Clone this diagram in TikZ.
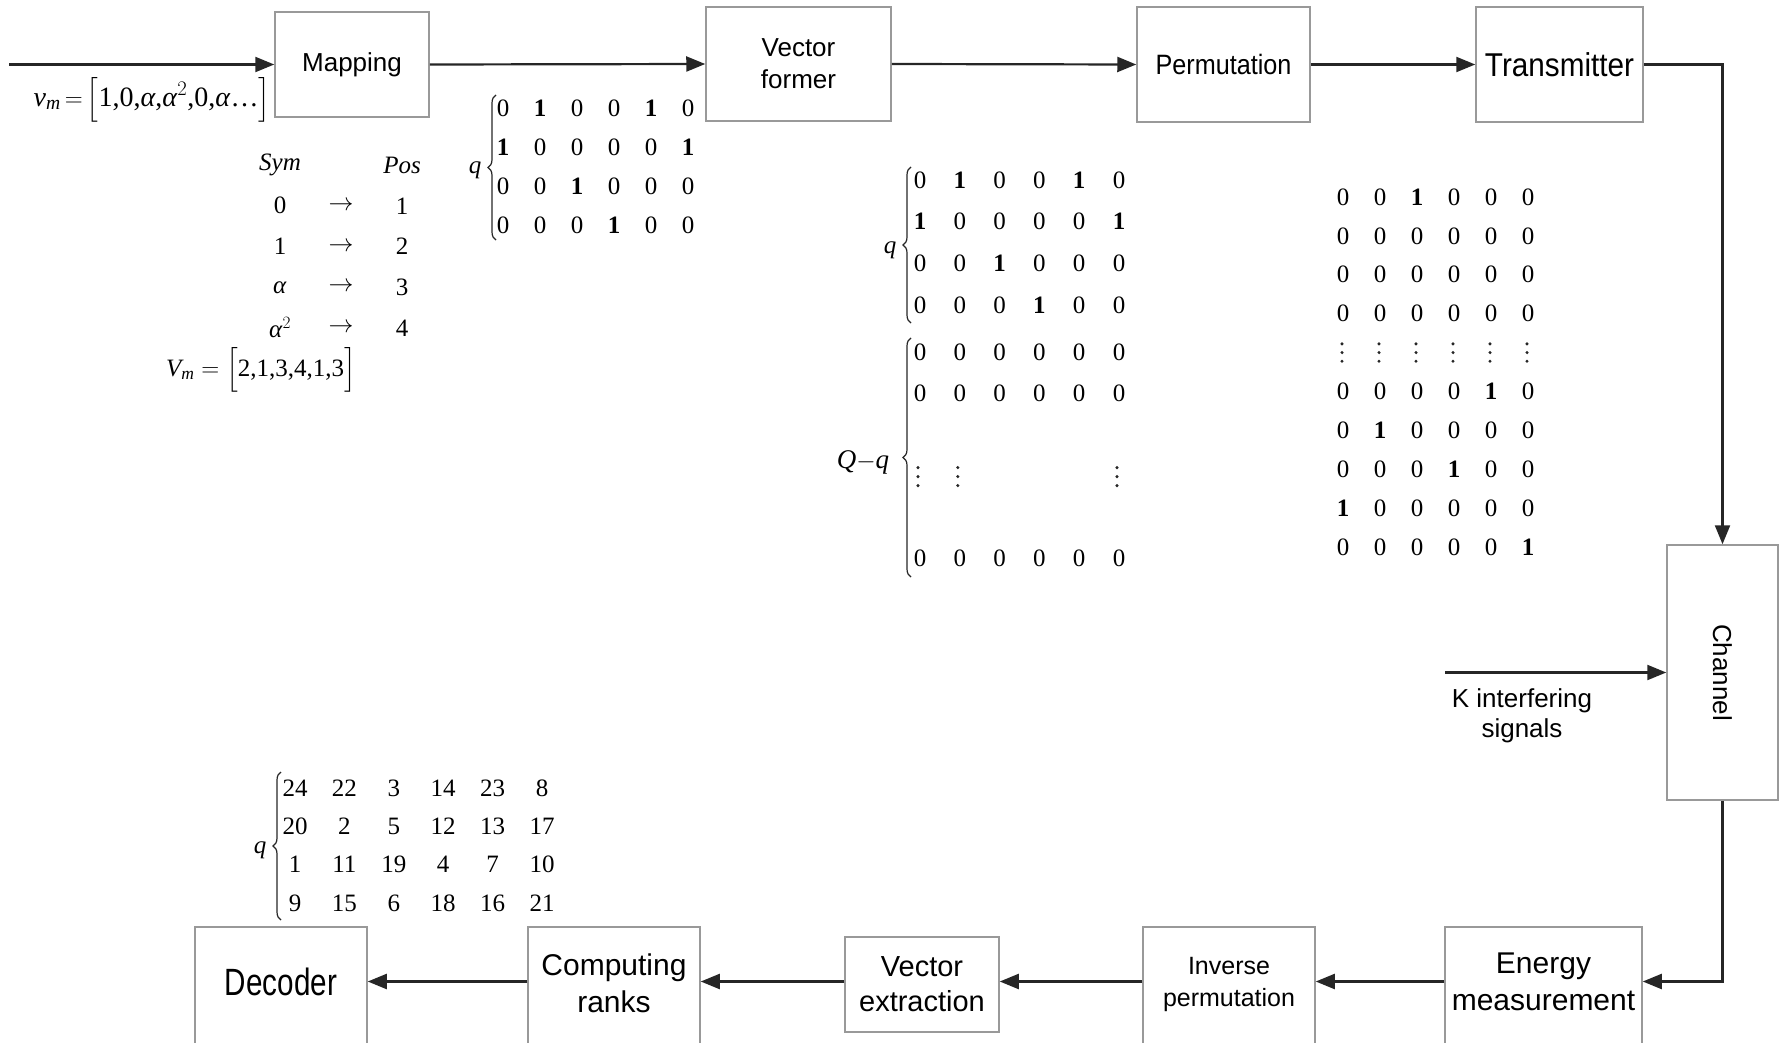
\documentclass[tikz,border=0pt]{standalone}
\usepackage{amsmath}
\usepackage{fontspec}
\setmainfont{Liberation Serif}
\newfontfamily\arial{Liberation Sans}
\newfontfamily\arialm[FakeStretch=0.9]{Liberation Sans}
\newfontfamily\arialn[FakeStretch=0.78]{Liberation Sans}
\usetikzlibrary{arrows.meta,matrix,decorations.pathreplacing}
\newcommand\fsz[2]{\fontsize{#1pt}{#2pt}\selectfont}
\newcommand\bo{\textbf{1}}
\newcommand\al{\textit{α}}
\begin{document}
\begin{tikzpicture}[x=1pt, y=-1pt,
  box/.style={draw=black!40, line width=1.5pt, inner sep=0pt},
  lbl/.style={align=center, inner sep=0pt},
  conn/.style={draw=black!85, line width=2.2pt, -{Triangle[length=19pt,width=15pt]}},
  mat/.style={matrix of nodes, nodes in empty cells, column sep=0pt, row sep=0pt, inner sep=0pt,
    nodes={inner sep=0pt, anchor=center, font=\fsz{25}{30}}},
  brc/.style={decorate, decoration={brace, amplitude=8pt}, line width=1.2pt, draw=black!85},
  vdot/.style={fill=black!85}]
\useasboundingbox (0,0) rectangle (1781,1043);
\clip (0,0) rectangle (1781,1043);

% ---- top row boxes
\node[box, minimum width=154pt, minimum height=105pt, font=\arial\fsz{26}{32}] (map) at (352,64.5) {Mapping};
\node[box, minimum width=185pt, minimum height=114pt, font=\arial\fsz{26}{32}, align=center] (vf) at (798.5,64) {Vector\\former};
\node[box, minimum width=173pt, minimum height=115pt, font=\arialm\fsz{28}{32}] (perm) at (1223.5,64.5) {Permutation};
\node[box, minimum width=167pt, minimum height=115pt, font=\arialm\fsz{33}{36}] (tx) at (1559.5,64.5) {Transmitter};

% ---- channel
\node[box, minimum width=111pt, minimum height=255pt] (chan) at (1722.5,672.5) {};
\node[lbl, rotate=-90, font=\arial\fsz{26}{30}] (chanT) at (1722.5,672.5) {Channel};
\coordinate (kin) at (1445,672.5);
\node[lbl, font=\arial\fsz{26}{30}] (kT) at (1522,716) {K interfering\\signals};

% ---- bottom row boxes
\node[box, minimum width=197pt, minimum height=143pt] (en) at (1543.5,998.5) {};
\node[lbl, font=\arial\fsz{30}{37}] (enT) at (1543.5,981.5) {Energy\\measurement};
\node[box, minimum width=172pt, minimum height=143pt] (inv) at (1229,998.5) {};
\node[lbl, font=\arial\fsz{25}{32}] (invT) at (1229,984) {Inverse\\permutation};
\node[box, minimum width=154pt, minimum height=95pt, font=\arial\fsz{29}{35}, align=center] (vex) at (922,984.5) {Vector\\extraction};
\node[box, minimum width=172pt, minimum height=143pt] (comp) at (614,998.5) {};
\node[lbl, font=\arial\fsz{30}{37}] (compT) at (614,983) {Computing\\ranks};
\node[box, minimum width=172pt, minimum height=143pt] (dec) at (281,998.5) {};
\node[lbl, font=\arialn\fsz{38}{40}] (decT) at (281,982) {Decoder};

% ---- connectors
\coordinate (src) at (9,64.5);
\draw[conn] (src) -- (map.west);
\draw[conn] (map.east) -- (vf.west);
\draw[conn] (vf.east) -- (perm.west);
\draw[conn] (perm.east) -- (tx.west);
\draw[conn] (tx.east) -| (chan.north);
\draw[conn] (kin) -- (chan.west);
\draw[conn] (chan.south) |- (en.east |- enT);
\draw[conn] (en.west |- enT) -- (inv.east |- enT);
\draw[conn] (inv.west |- enT) -- (vex.east |- enT);
\draw[conn] (vex.west |- enT) -- (comp.east |- enT);
\draw[conn] (comp.west |- enT) -- (dec.east |- enT);

% ---- mapping texts
\node[lbl, font=\fsz{28}{30}] (vm1) at (152,100) {$\text{\itshape v}_{\text{\itshape m}}\,{=}\,\Bigl[\text{1,0,\al,\al}^{2}\text{,0,\al…}\Bigr]$};
\matrix[mat, nodes={minimum width=61pt, minimum height=40.75pt}] (symtab) at (341,246.5) {
\textit{Sym} & & \textit{Pos}\\
0 & $\rightarrow$ & 1\\
1 & $\rightarrow$ & 2\\
\al & $\rightarrow$ & 3\\
$\text{\al}^{2}$ & $\rightarrow$ & 4\\
};
\node[lbl, font=\fsz{25}{30}] (vm2) at (261,370) {$\text{\itshape V}_{\text{\itshape m}}=\Bigl[\text{2,1,3,4,1,3}\Bigr]$};

% ---- matrix 1
\matrix[mat, nodes={minimum width=37pt, minimum height=39pt}] (m1) at (595.5,166.5) {
0 & \bo & 0 & 0 & \bo & 0 \\
\bo & 0 & 0 & 0 & 0 & \bo \\
0 & 0 & \bo & 0 & 0 & 0 \\
0 & 0 & 0 & \bo & 0 & 0 \\
};
\draw[brc] (496,240) -- (496,95);
\node[lbl, font=\fsz{25}{30}\itshape] (q1) at (475,170) {q};

% ---- matrix 2
\matrix[mat, nodes={minimum width=39.8pt, minimum height=41.7pt}] (m2a) at (1019.5,242.5) {
0 & \bo & 0 & 0 & \bo & 0 \\
\bo & 0 & 0 & 0 & 0 & \bo \\
0 & 0 & \bo & 0 & 0 & 0 \\
0 & 0 & 0 & \bo & 0 & 0 \\
};
\matrix[mat, nodes={minimum width=39.8pt, minimum height=41.2pt}] (m2b) at (1019.5,455) {
0 & 0 & 0 & 0 & 0 & 0 \\
0 & 0 & 0 & 0 & 0 & 0 \\
 & & & & & \\
 & & & & & \\
 & & & & & \\
0 & 0 & 0 & 0 & 0 & 0 \\
};
\foreach \c in {1,2,6} {
  \foreach \dy in {-9,0,9} \fill[vdot] ([yshift=-\dy pt]m2b-4-\c.center) ++(-2,1) circle (1.7pt);
}
\draw[brc] (911,323) -- (911,167);
\node[lbl, font=\fsz{25}{30}\itshape] (q2) at (890,250) {q};
\draw[brc] (911,577) -- (911,338);
\node[lbl, font=\fsz{27}{30}] (Qq) at (863,462) {\textit{Q}$-$\textit{q}};

% ---- matrix 3
\matrix[mat, nodes={minimum width=37pt, minimum height=38.9pt}] (m3) at (1435.5,372) {
0 & 0 & \bo & 0 & 0 & 0 \\
0 & 0 & 0 & 0 & 0 & 0 \\
0 & 0 & 0 & 0 & 0 & 0 \\
0 & 0 & 0 & 0 & 0 & 0 \\
 & & & & & \\
0 & 0 & 0 & 0 & \bo & 0 \\
0 & \bo & 0 & 0 & 0 & 0 \\
0 & 0 & 0 & \bo & 0 & 0 \\
\bo & 0 & 0 & 0 & 0 & 0 \\
0 & 0 & 0 & 0 & 0 & \bo \\
};
\foreach \c in {1,...,6} {
  \foreach \dy in {-8.7,0,8.7} \fill[vdot] ([yshift=-\dy pt]m3-5-\c.center) ++(-1,0) circle (1.7pt);
}

% ---- matrix 4
\matrix[mat, nodes={minimum width=49.4pt, minimum height=38.3pt}] (m4) at (418.5,845.5) {
24 & 22 & 3 & 14 & 23 & 8 \\
20 & 2 & 5 & 12 & 13 & 17 \\
1 & 11 & 19 & 4 & 7 & 10 \\
9 & 15 & 6 & 18 & 16 & 21 \\
};
\draw[brc] (281,920) -- (281,772);
\node[lbl, font=\fsz{25}{30}\itshape] (q4) at (260,850) {q};
\end{tikzpicture}
\end{document}
